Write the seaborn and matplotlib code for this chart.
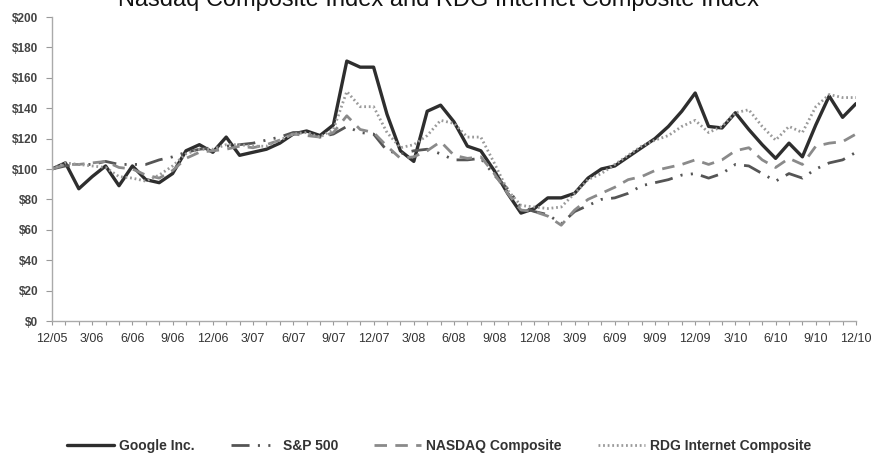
import matplotlib
matplotlib.use("Agg")
import matplotlib.pyplot as plt
import seaborn as sns
import pandas as pd
import numpy as np

months = list(range(61))
tick_labels = ["12/05", "3/06", "6/06", "9/06", "12/06", "3/07", "6/07", "9/07", "12/07",
               "3/08", "6/08", "9/08", "12/08", "3/09", "6/09", "9/09", "12/09", "3/10",
               "6/10", "9/10", "12/10"]

google = [100, 104, 87, 95, 102, 89, 102, 93, 91, 97,
          112, 116, 111, 121, 109, 111, 113, 117, 123, 125,
          122, 129, 171, 167, 167, 136, 112, 105, 138, 142,
          131, 115, 112, 99, 84, 71, 74, 81, 81, 84,
          94, 100, 102, 108, 114, 120, 128, 138, 150, 128,
          127, 137, 126, 116, 107, 117, 108, 129, 148, 134, 143]
sp500 = [100, 102, 103, 103, 105, 103, 103, 103, 106, 108,
         111, 113, 114, 115, 116, 117, 119, 121, 124, 124,
         121, 123, 128, 124, 123, 112, 110, 112, 113, 110,
         106, 106, 107, 96, 87, 75, 72, 70, 64, 72,
         76, 80, 81, 84, 89, 91, 93, 96, 97, 94,
         97, 103, 102, 97, 92, 97, 94, 100, 104, 106, 111]
nasdaq = [100, 103, 103, 104, 105, 101, 100, 96, 94, 99,
          107, 111, 112, 113, 115, 114, 116, 119, 123, 122,
          121, 124, 135, 126, 124, 115, 107, 108, 112, 118,
          109, 107, 108, 97, 84, 73, 72, 69, 63, 73,
          80, 84, 88, 93, 95, 99, 101, 103, 106, 103,
          106, 112, 114, 106, 101, 107, 103, 115, 117, 118, 123]
rdg = [100, 104, 103, 102, 101, 95, 94, 92, 96, 102,
       110, 113, 113, 116, 116, 115, 115, 119, 123, 124,
       121, 126, 151, 141, 141, 124, 114, 116, 122, 132,
       130, 121, 121, 104, 86, 76, 75, 74, 75, 84,
       93, 97, 103, 109, 115, 119, 122, 128, 132, 124,
       128, 137, 139, 128, 119, 128, 124, 141, 149, 147, 147]

series_names = ["Google Inc.", "S&P 500", "NASDAQ Composite", "RDG Internet Composite"]
series_values = [google, sp500, nasdaq, rdg]

sns.set_style("white")
plt.rcParams["font.family"] = ["Liberation Sans Narrow", "Liberation Sans", "DejaVu Sans"]
plt.rcParams["lines.scale_dashes"] = False

fig = plt.figure(figsize=(8.73, 4.54), dpi=100)
ax = fig.add_axes([52 / 873, 1 - 321 / 454, (856 - 52) / 873, (321 - 17) / 454])

styles = [
    dict(color="#2e2e2e", lw=2.4, ls="-"),
    dict(color="#555555", lw=2.0, ls=(0, (13, 6, 1.5, 6, 1.5, 6))),
    dict(color="#8a8a8a", lw=2.0, ls=(0, (9, 6))),
    dict(color="#9a9a9a", lw=2.0, ls=(0, (1.3, 2.0))),
]

for name, vals, st in zip(series_names, series_values, styles):
    df = pd.DataFrame({"month": months, "value": vals})
    sns.lineplot(data=df, x="month", y="value", ax=ax, color=st["color"],
                 linewidth=st["lw"], linestyle=st["ls"], label=name, legend=False)

ax.set_xlim(0, 60)
ax.set_ylim(0, 200)
ax.set_xlabel("")
ax.set_ylabel("")
ax.set_xticks(range(0, 61, 3))
ax.set_xticklabels(tick_labels)
ax.set_xticks(range(61), minor=True)
ax.set_yticks(range(0, 201, 20))
ax.set_yticklabels([f"${v}" for v in range(0, 201, 20)])

for s in ["top", "right"]:
    ax.spines[s].set_visible(False)
for s in ["left", "bottom"]:
    ax.spines[s].set_color("#aaaaaa")
    ax.spines[s].set_linewidth(1.0)

ax.tick_params(axis="x", which="both", direction="out", length=3, width=0.8,
               color="#999999", bottom=True, labelsize=9, labelcolor="#333333", pad=6)
ax.tick_params(axis="y", which="major", direction="out", length=4, width=0.8,
               color="#999999", left=True, labelsize=8.5, labelcolor="#444444", pad=6)
for lab in ax.get_yticklabels():
    lab.set_fontweight("bold")
    lab.set_family(["Liberation Sans", "DejaVu Sans"])

# The reference title is partly clipped at the top edge of the image
fig.text(439 / 873, 1 - 6 / 454, "Nasdaq Composite Index and RDG Internet Composite Index",
         ha="center", va="baseline", fontsize=17, color="#111111",
         family=["Liberation Sans", "DejaVu Sans"])

handles, labels = ax.get_legend_handles_labels()
leg = fig.legend(handles, labels, loc="center", bbox_to_anchor=(439 / 873, 1 - 446 / 454),
                 ncol=4, frameon=False, fontsize=10, handlelength=3.4,
                 columnspacing=2.6, handletextpad=0.35)
for t in leg.get_texts():
    t.set_fontweight("bold")
    t.set_color("#333333")

fig.savefig("out.png", dpi=100, facecolor="white")
